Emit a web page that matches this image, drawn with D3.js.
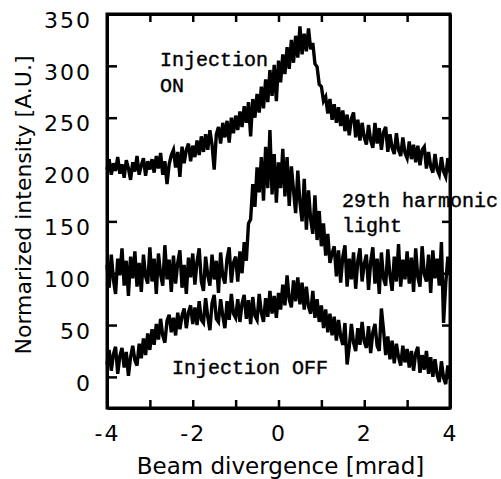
<!DOCTYPE html>
<html lang="en">
<head>
  <meta charset="utf-8" />
  <title>Beam divergence</title>
  <script src="https://d3js.org/d3.v7.min.js"></script>
  <style>
    body { margin: 0; background: #fff; }
    svg { display: block; }
    .axis text { font-family: "DejaVu Sans", sans-serif; font-size: 22px; fill: #000; letter-spacing: 2px; }
    .axis line, .axis path { stroke: #000; }
    .title { font-family: "DejaVu Sans", sans-serif; font-size: 23px; fill: #000; }
    .note { font-family: "Liberation Mono", "DejaVu Sans Mono", monospace; font-size: 20px; fill: #000; stroke: #000; stroke-width: 0.4px; }
    .trace { fill: none; stroke: #000; stroke-width: 3.4px; stroke-linejoin: miter; }
  </style>
</head>
<body>
  <svg id="viz" width="501" height="479"></svg>
  <script>
    // sample positions (mrad), one value every 0.05 mrad
    const divergence = d3.range(0, 161).map(i => -4 + i * 0.05);

    const injectionOn = [
      200, 210, 195, 206, 199, 212, 196, 205, 192, 209, 201, 190, 207, 198, 213, 195, 204, 211, 194, 208, 200,
      210, 197, 213, 201, 216, 195, 208, 186, 205, 214, 219, 202, 217, 193, 222, 206, 219, 225, 208, 223,
      212, 228, 214, 232, 217, 234, 219, 238, 224, 200, 234, 241, 225, 245, 231, 247, 226, 250, 235, 252,
      238, 256, 241, 261, 245, 265, 232, 268, 250, 273, 255, 280, 259, 287, 265, 296, 271, 301, 266, 305,
      284, 311, 292, 318, 297, 325, 303, 329, 308, 338, 311, 331, 314, 336, 316, 322, 302, 299, 282, 280,
      266, 270, 254, 268, 248, 263, 245, 260, 242, 257, 237, 253, 233, 249, 255, 231, 248, 228, 245, 231,
      224, 243, 228, 221, 245, 225, 240, 219, 236, 241, 217, 234, 221, 215, 235, 219, 213, 231, 216, 211,
      227, 210, 224, 207, 223, 204, 219, 222, 201, 217, 203, 197, 215, 200, 195, 212, 198, 193, 211, 197
    ];

    const harmonic29 = [
      108, 86, 118, 94, 80, 114, 98, 124, 88, 112, 78, 116, 95, 121, 87, 110, 82, 118, 97, 90, 125,
      92, 114, 80, 119, 99, 88, 127, 94, 113, 82, 117, 90, 110, 122, 86, 108, 80, 115, 96, 119,
      89, 111, 124, 92, 83, 116, 98, 88, 118, 94, 112, 81, 120, 97, 90, 114, 125, 91, 110, 116,
      92, 121, 100, 130, 112, 148, 152, 186, 164, 202, 178, 212, 170, 222, 182, 238, 176, 215, 168, 207,
      182, 220, 174, 212, 165, 203, 180, 158, 199, 168, 150, 191, 142, 180, 152, 138, 175, 132, 160, 126,
      148, 117, 138, 110, 119, 126, 97, 122, 91, 116, 127, 87, 114, 94, 120, 85, 112, 124, 92, 109,
      118, 84, 111, 125, 90, 114, 80, 120, 95, 88, 123, 98, 83, 116, 92, 128, 87, 113, 94, 121,
      90, 115, 82, 124, 96, 87, 126, 99, 92, 118, 81, 122, 95, 114, 88, 130, 52, 90, 116, 98
    ];

    const injectionOff = [
      12, 26, 6, 22, 29, 3, 20, 28, 9, 24, 1, 19, 30, 16, 11, 32, 18, 37, 21, 42, 26,
      46, 31, 51, 36, 56, 40, 33, 54, 60, 43, 57, 40, 62, 46, 59, 66, 47, 62, 69, 51,
      67, 50, 73, 55, 52, 76, 58, 45, 71, 79, 56, 53, 75, 59, 47, 73, 55, 80, 61, 57,
      75, 53, 71, 79, 56, 74, 51, 77, 59, 55, 80, 62, 53, 76, 58, 83, 61, 78, 57, 81,
      65, 89, 69, 98, 75, 67, 93, 73, 96, 70, 91, 65, 87, 68, 61, 83, 57, 75, 53, 69,
      47, 65, 43, 61, 40, 58, 35, 55, 39, 31, 52, 12, 29, 51, 33, 25, 47, 31, 53, 34,
      28, 49, 23, 43, 51, 30, 25, 66, 45, 21, 39, 17, 35, 13, 32, 19, 11, 30, 14, 27,
      9, 25, 6, 23, 29, 4, 21, 7, 25, 3, 19, 0, 17, 2, -5, 15, -1, -7, 11, -2
    ];

    const xTicks = [-4, -3, -2, -1, 0, 1, 2, 3, 4];
    const yTicks = [0, 50, 100, 150, 200, 250, 300, 350];

    const plotLeft = 107, plotRight = 450, plotTop = 14, plotBottom = 408;

    const svg = d3.select("#viz");
    const x = d3.scaleLinear().domain([-4, 4]).range([plotLeft, plotRight]);
    const y = d3.scaleLinear().domain([-30, 350]).range([plotBottom, plotTop]);

    const line = d3.line()
      .x((d, i) => x(divergence[i]))
      .y(d => y(d));

    [injectionOn, harmonic29, injectionOff].forEach(s => {
      svg.append("path").attr("class", "trace").attr("d", line(s));
    });

    // frame with inward ticks
    const gLeft = svg.append("g").attr("class", "axis")
      .attr("transform", `translate(${plotLeft},0)`)
      .call(d3.axisLeft(y).tickValues(yTicks).tickSizeInner(-10).tickSizeOuter(0).tickPadding(15).tickFormat(d => String(d)));
    gLeft.selectAll(".tick text").attr("dy", "0.6em");

    svg.append("g").attr("class", "axis")
      .attr("transform", `translate(${plotRight},0)`)
      .call(d3.axisRight(y).tickValues(yTicks).tickSizeInner(-8).tickSizeOuter(0).tickFormat(""));

    svg.append("g").attr("class", "axis")
      .attr("transform", `translate(0,${plotBottom})`)
      .call(d3.axisBottom(x).tickValues(xTicks).tickSizeInner(-8).tickSizeOuter(0).tickPadding(17)
        .tickFormat(d => d % 2 === 0 ? String(d) : ""));

    svg.append("g").attr("class", "axis")
      .attr("transform", `translate(0,${plotTop})`)
      .call(d3.axisTop(x).tickValues(xTicks).tickSizeInner(-8).tickSizeOuter(0).tickFormat(""));

    svg.selectAll(".axis path.domain").attr("stroke-width", 3);
    svg.selectAll(".axis .tick line").attr("stroke-width", 2.5);
    // close the frame corners
    svg.append("rect")
      .attr("x", plotLeft).attr("y", plotTop)
      .attr("width", plotRight - plotLeft).attr("height", plotBottom - plotTop)
      .attr("fill", "none").attr("stroke", "#000").attr("stroke-width", 3);

    svg.append("text").attr("class", "title")
      .attr("x", (plotLeft + plotRight) / 2 + 2).attr("y", 474)
      .attr("text-anchor", "middle")
      .text("Beam divergence [mrad]");

    svg.append("text").attr("class", "title")
      .attr("transform", "translate(31,205) rotate(-90)")
      .attr("text-anchor", "middle")
      .style("font-size", "22px")
      .text("Normarized intensity [A.U.]");

    const notes = [
      { t: "Injection", x: 160, y: 66 },
      { t: "ON", x: 160, y: 92 },
      { t: "29th harmonic", x: 342, y: 207 },
      { t: "light", x: 342, y: 232 },
      { t: "Injection OFF", x: 172, y: 374 }
    ];
    svg.selectAll("text.note").data(notes).join("text")
      .attr("class", "note")
      .attr("x", d => d.x).attr("y", d => d.y)
      .text(d => d.t);
  </script>
</body>
</html>
